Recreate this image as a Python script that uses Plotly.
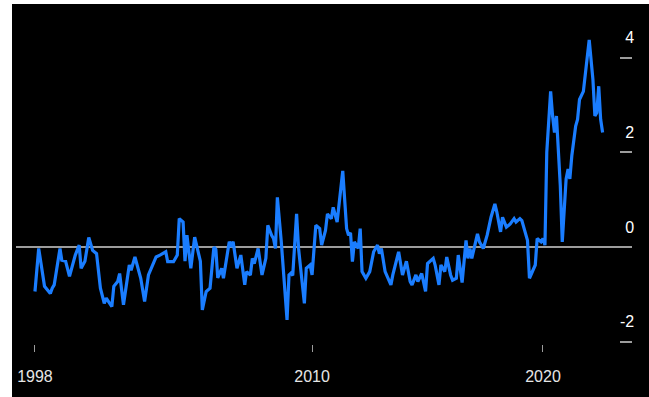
import plotly.graph_objects as go

# Monthly readings of the index (first of month), 1998 - 2022
dates = [
    "1998-01", "1998-03", "1998-06", "1998-09", "1998-10", "1998-11",
    "1999-02", "1999-03", "1999-05", "1999-07", "1999-10", "1999-12",
    "2000-01", "2000-03", "2000-05", "2000-07", "2000-09", "2000-11",
    "2001-01", "2001-02", "2001-05", "2001-06", "2001-08", "2001-09", "2001-11",
    "2002-02", "2002-03", "2002-05", "2002-08", "2002-10", "2002-12",
    "2003-03", "2003-04", "2003-06", "2003-09", "2003-10",
    "2004-01", "2004-03", "2004-04", "2004-06", "2004-07", "2004-08", "2004-10", "2004-12",
    "2005-02", "2005-03", "2005-04", "2005-06", "2005-08", "2005-10", "2005-11", "2005-12",
    "2006-02", "2006-03", "2006-06", "2006-07", "2006-08", "2006-10", "2006-12",
    "2007-01", "2007-02", "2007-03", "2007-05", "2007-06", "2007-07", "2007-09", "2007-11",
    "2008-01", "2008-02", "2008-04", "2008-05", "2008-06", "2008-07", "2008-09", "2008-11", "2008-12",
    "2009-01", "2009-02", "2009-03", "2009-05", "2009-06", "2009-08", "2009-09", "2009-10", "2009-12",
    "2010-01", "2010-03", "2010-05", "2010-06", "2010-08", "2010-09", "2010-11", "2010-12",
    "2011-02", "2011-03", "2011-05", "2011-07", "2011-08", "2011-09", "2011-10", "2011-11",
    "2012-01", "2012-02", "2012-03", "2012-05", "2012-07", "2012-09", "2012-11", "2012-12",
    "2013-01", "2013-03", "2013-06", "2013-07", "2013-10", "2013-12",
    "2014-02", "2014-04", "2014-05", "2014-07", "2014-08", "2014-10", "2014-12",
    "2015-01", "2015-04", "2015-05", "2015-07", "2015-08", "2015-10", "2015-11",
    "2016-01", "2016-02", "2016-04", "2016-05", "2016-07", "2016-09", "2016-10", "2016-11", "2016-12",
    "2017-03", "2017-04", "2017-06", "2017-08", "2017-10", "2017-12",
    "2018-01", "2018-03", "2018-04", "2018-06", "2018-08", "2018-10", "2018-11",
    "2019-01", "2019-02", "2019-04", "2019-05", "2019-06", "2019-08", "2019-09", "2019-10", "2019-12",
    "2020-01", "2020-02", "2020-03", "2020-05", "2020-06", "2020-07", "2020-08", "2020-10", "2020-11",
    "2021-01", "2021-02", "2021-03", "2021-04", "2021-06", "2021-07", "2021-08", "2021-10", "2021-12",
    "2022-01", "2022-03", "2022-04", "2022-05", "2022-06", "2022-07", "2022-08",
]

values = [
    -0.94, -0.03, -0.83, -0.98, -0.87, -0.80,
    -0.03, -0.28, -0.30, -0.62, -0.17, 0.04,
    -0.45, -0.30, 0.20, -0.07, -0.14, -0.87,
    -1.19, -1.08, -1.26, -0.83, -0.73, -0.56, -1.22,
    -0.38, -0.49, -0.21, -0.66, -1.15, -0.59,
    -0.31, -0.21, -0.17, -0.10, -0.31,
    -0.31, -0.17, 0.60, 0.53, -0.30, 0.25, -0.45, 0.21,
    -0.17, -0.30, -1.33, -0.94, -0.87, 0.00, -0.05, -0.65,
    -0.45, -0.66, 0.11, 0.04, 0.11, -0.45, -0.17,
    -0.45, -0.80, -0.52, -0.59, -0.24, -0.35, -0.03, -0.59,
    -0.24, 0.46, 0.25, 0.18, -0.03, 1.05, 0.11, -1.08, -1.54,
    -0.59, -0.55, -0.60, 0.70, -0.03, -0.87, -1.19, -0.45, -0.38,
    -0.59, 0.46, 0.39, 0.04, 0.35, 0.70, 0.60, 0.84,
    0.53, 0.88, 1.61, 0.39, 0.25, 0.30, -0.31, 0.11,
    -0.03, 0.39, -0.52, -0.66, -0.52, -0.10, 0.04, -0.14,
    -0.03, -0.52, -0.80, -0.59, -0.10, -0.59,
    -0.30, -0.73, -0.80, -0.59, -0.73, -0.56, -0.94,
    -0.35, -0.24, -0.38, -0.80, -0.38, -0.52, -0.21,
    -0.59, -0.70, -0.66, -0.17, -0.75, 0.14, -0.24, -0.03, -0.24,
    0.28, 0.11, -0.03, 0.25, 0.63, 0.91,
    0.74, 0.32, 0.63, 0.42, 0.49, 0.60, 0.53,
    0.60, 0.56, 0.25, 0.14, -0.66, -0.45, -0.38, 0.18, 0.11,
    0.18, 0.04, 2.00, 3.29, 2.77, 2.42, 2.77, 1.30, 0.11,
    1.44, 1.65, 1.44, 1.93, 2.56, 2.70, 3.12, 3.29, 3.96,
    4.38, 3.54, 2.77, 2.84, 3.40, 2.70, 2.42,
]

x_tick_vals = ["1998-01-01", "2010-01-01", "2020-01-01"]
x_tick_text = ["1998", "2010", "2020"]
y_tick_vals = [-2, 0, 2, 4]
y_tick_text = ["-2", "0", "2", "4"]

LINE_BLUE = "#1a7dff"
AXIS_GREY = "#9c9c9c"
LABEL_GREY = "#e6e6e6"

fig = go.Figure(
    go.Scatter(
        x=[d + "-01" for d in dates],
        y=values,
        mode="lines",
        line=dict(color=LINE_BLUE, width=3.2),
        hoverinfo="skip",
    )
)

fig.update_layout(
    width=649,
    height=397,
    margin=dict(l=16, r=17, t=20, b=51),
    paper_bgcolor="black",
    plot_bgcolor="black",
    showlegend=False,
    font=dict(family="Liberation Sans, Arial, sans-serif", color=LABEL_GREY, size=16),
    xaxis=dict(
        type="date",
        range=["1997-03-07", "2023-11-09"],
        tickvals=x_tick_vals,
        ticktext=x_tick_text,
        ticks="outside",
        ticklen=7,
        tickwidth=1,
        tickcolor=AXIS_GREY,
        ticklabelstandoff=11,
        showgrid=False,
        zeroline=False,
        showline=False,
    ),
    yaxis=dict(
        range=[-2.05, 4.80],
        side="right",
        tickvals=y_tick_vals,
        ticktext=y_tick_text,
        ticks="inside",
        ticklen=12,
        tickwidth=2,
        tickcolor=AXIS_GREY,
        ticklabelposition="inside",
        ticklabelshift=-20,
        ticklabelstandoff=-14,
        showgrid=False,
        zeroline=True,
        zerolinecolor=AXIS_GREY,
        zerolinewidth=2,
        showline=False,
    ),
    shapes=[
        # thin white strips along the left and top edges of the page
        dict(type="rect", xref="paper", yref="paper",
             x0=-0.05, x1=-4 / 616, y0=-0.5, y1=1.2,
             fillcolor="white", line=dict(width=0), layer="above"),
        dict(type="rect", xref="paper", yref="paper",
             x0=-0.05, x1=1.1, y0=(346 - 4) / 326, y1=1.2,
             fillcolor="white", line=dict(width=0), layer="above"),
    ],
)

fig.write_html("out.html")
